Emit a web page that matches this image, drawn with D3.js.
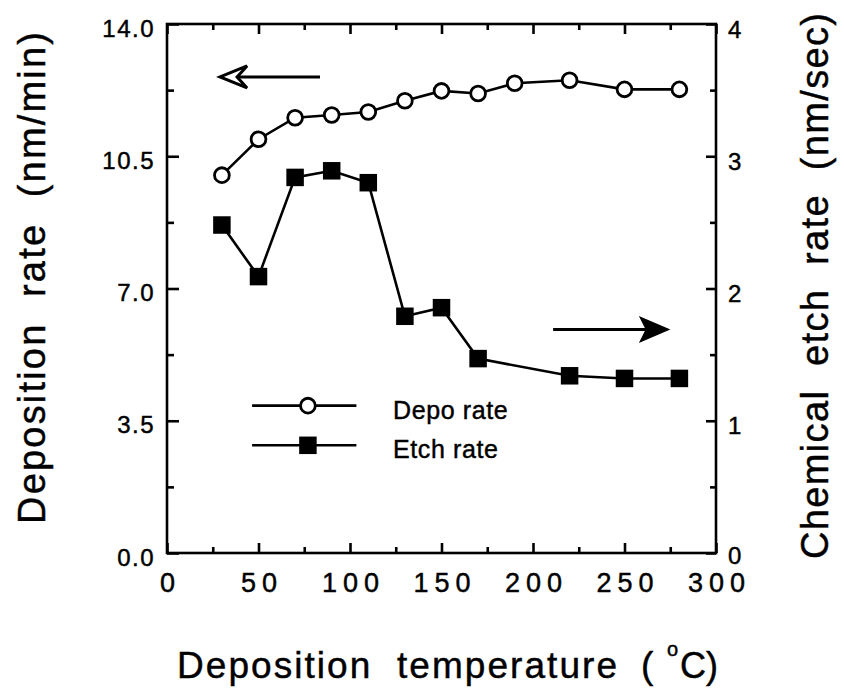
<!DOCTYPE html>
<html>
<head>
<meta charset="utf-8">
<script src="https://cdn.jsdelivr.net/npm/d3@7"></script>
<style>
  html, body { margin: 0; padding: 0; background: #fff; }
  svg { display: block; }
  text { font-family: "Liberation Sans", Arial, Helvetica, sans-serif; fill: #000; stroke: #000; stroke-width: 0.45px; }
</style>
</head>
<body>
<svg id="chart" width="844" height="690"></svg>
<script>
// ---- Data ----
const depoTemps = [30, 50, 70, 90, 110, 130, 150, 170, 190, 220, 250, 280];
const depoRate  = [10.0, 10.95, 11.52, 11.59, 11.67, 11.97, 12.23, 12.16, 12.43, 12.51, 12.27, 12.27];
const etchTemps = [30, 50, 70, 90, 110, 130, 150, 170, 220, 250, 280];
const etchRate  = [2.48, 2.09, 2.84, 2.89, 2.80, 1.79, 1.855, 1.47, 1.34, 1.32, 1.32];

const xMajorTicks = [0, 50, 100, 150, 200, 250, 300];
const xMinorTicks = [25, 75, 125, 175, 225, 275];
const yLeftMajor  = [0, 3.5, 7.0, 10.5, 14.0];
const yLeftMinor  = [1.75, 5.25, 8.75, 12.25];
const yRightMajor = [0, 1, 2, 3, 4];
const yRightMinor = [0.5, 1.5, 2.5, 3.5];

const legendLabels = ["Depo rate", "Etch rate"];
const xTitleWords = "Deposition  temperature";
const yLeftTitle = "Deposition  rate  (nm/min)";
const yRightTitle = "Chemical  etch  rate  (nm/sec)";

// ---- Layout ----
const svg = d3.select("#chart");
const m = { left: 167, right: 716, top: 24, bottom: 553 };

const x = d3.scaleLinear().domain([0, 300]).range([m.left, m.right]);
const yL = d3.scaleLinear().domain([0, 14]).range([m.bottom, m.top]);
const yR = d3.scaleLinear().domain([0, 4]).range([m.bottom, m.top]);

const axisW = 2.6;

function styleAxis(g) {
  g.select(".domain").remove();
  g.selectAll(".tick line").attr("stroke", "#000").attr("stroke-width", axisW);
}

// Bottom axis
svg.append("g").attr("transform", `translate(0,${m.bottom})`)
  .call(d3.axisBottom(x).tickValues(xMinorTicks).tickSize(-6).tickFormat(""))
  .call(styleAxis);
const gxb = svg.append("g").attr("transform", `translate(0,${m.bottom})`)
  .call(d3.axisBottom(x).tickValues(xMajorTicks).tickSize(-10).tickPadding(20).tickFormat(d3.format("d")))
  .call(styleAxis);
gxb.selectAll("text").attr("font-size", 27).style("letter-spacing", "6px").attr("dx", 3)
  .attr("font-family", "Liberation Sans, Arial, sans-serif");

// Top axis
svg.append("g").attr("transform", `translate(0,${m.top})`)
  .call(d3.axisTop(x).tickValues(xMinorTicks).tickSize(-6).tickFormat(""))
  .call(styleAxis);
svg.append("g").attr("transform", `translate(0,${m.top})`)
  .call(d3.axisTop(x).tickValues(xMajorTicks).tickSize(-10).tickFormat(""))
  .call(styleAxis);

// Left axis
svg.append("g").attr("transform", `translate(${m.left},0)`)
  .call(d3.axisLeft(yL).tickValues(yLeftMinor).tickSize(-7).tickFormat(""))
  .call(styleAxis);
const gyl = svg.append("g").attr("transform", `translate(${m.left},0)`)
  .call(d3.axisLeft(yL).tickValues(yLeftMajor).tickSize(-12).tickPadding(12).tickFormat(d3.format(".1f")))
  .call(styleAxis);
gyl.selectAll("text").attr("font-size", 24).attr("dy", "0.5em").style("letter-spacing", "1.5px")
  .attr("font-family", "Liberation Sans, Arial, sans-serif");

// Right axis
svg.append("g").attr("transform", `translate(${m.right},0)`)
  .call(d3.axisRight(yR).tickValues(yRightMinor).tickSize(-6).tickFormat(""))
  .call(styleAxis);
const gyr = svg.append("g").attr("transform", `translate(${m.right},0)`)
  .call(d3.axisRight(yR).tickValues(yRightMajor).tickSize(-10).tickPadding(12).tickFormat(d3.format("d")))
  .call(styleAxis);
gyr.selectAll("text").attr("font-size", 24).attr("dy", d => d === 0 ? "0.42em" : "0.55em")
  .attr("font-family", "Liberation Sans, Arial, sans-serif");

// Frame
svg.append("rect")
  .attr("x", m.left).attr("y", m.top)
  .attr("width", m.right - m.left).attr("height", m.bottom - m.top)
  .attr("fill", "none").attr("stroke", "#000").attr("stroke-width", axisW);

// ---- Series ----
const depoData = depoTemps.map((t, i) => ({ t, v: depoRate[i] }));
const etchData = etchTemps.map((t, i) => ({ t, v: etchRate[i] }));

svg.append("path").datum(depoData)
  .attr("fill", "none").attr("stroke", "#000").attr("stroke-width", 2.6)
  .attr("d", d3.line().x(d => x(d.t)).y(d => yL(d.v)));
svg.append("path").datum(etchData)
  .attr("fill", "none").attr("stroke", "#000").attr("stroke-width", 2.6)
  .attr("d", d3.line().x(d => x(d.t)).y(d => yR(d.v)));

svg.append("g").selectAll("circle").data(depoData).join("circle")
  .attr("cx", d => x(d.t)).attr("cy", d => yL(d.v)).attr("r", 7.4)
  .attr("fill", "#fff").attr("stroke", "#000").attr("stroke-width", 2.8);

const sq = 17.5;
svg.append("g").selectAll("rect").data(etchData).join("rect")
  .attr("x", d => x(d.t) - sq / 2).attr("y", d => yR(d.v) - sq / 2)
  .attr("width", sq).attr("height", sq).attr("fill", "#000");

// ---- Arrows (positioned in data space) ----
{
  const y0 = yL(12.6), xt = x(29), xe = x(83.6);
  svg.append("line").attr("x1", xt + 16).attr("x2", xe).attr("y1", y0).attr("y2", y0)
    .attr("stroke", "#000").attr("stroke-width", 3);
  svg.append("path")
    .attr("d", `M${xt},${y0} L${xt + 27},${y0 - 11} L${xt + 17},${y0} L${xt + 27},${y0 + 11} Z`)
    .attr("fill", "#fff").attr("stroke", "#000").attr("stroke-width", 3).attr("stroke-linejoin", "miter");
}
{
  const y0 = yR(1.69), xs = x(211), xt = x(274);
  svg.append("line").attr("x1", xs).attr("x2", xt - 14).attr("y1", y0).attr("y2", y0)
    .attr("stroke", "#000").attr("stroke-width", 3);
  svg.append("path")
    .attr("d", `M${xt},${y0} L${xt - 28},${y0 - 12} L${xt - 22},${y0} L${xt - 28},${y0 + 12} Z`)
    .attr("fill", "#000").attr("stroke", "#000").attr("stroke-width", 1.5);
}

// ---- Legend ----
const legX1 = x(46.5), legX2 = x(103.5), legM = x(77);
const legY = [yL(3.9), yL(2.85)];
legendLabels.forEach((lab, i) => {
  const g = svg.append("g");
  g.append("line").attr("x1", legX1).attr("x2", legX2).attr("y1", legY[i]).attr("y2", legY[i])
    .attr("stroke", "#000").attr("stroke-width", 2.6);
  if (i === 0) {
    g.append("circle").attr("cx", legM).attr("cy", legY[i]).attr("r", 7.4)
      .attr("fill", "#fff").attr("stroke", "#000").attr("stroke-width", 2.8);
  } else {
    g.append("rect").attr("x", legM - sq / 2).attr("y", legY[i] - sq / 2)
      .attr("width", sq).attr("height", sq).attr("fill", "#000");
  }
  g.append("text").attr("x", x(123.5)).attr("y", legY[i] + 13)
    .attr("font-size", 25).style("letter-spacing", "0.6px").text(lab);
});

// ---- Axis titles ----
svg.append("text")
  .attr("transform", "translate(45,278) rotate(-90)")
  .attr("text-anchor", "middle").attr("font-size", 38)
  .attr("textLength", 492).attr("lengthAdjust", "spacing")
  .style("white-space", "pre").text(yLeftTitle);

svg.append("text")
  .attr("transform", "translate(828,286) rotate(-90)")
  .attr("text-anchor", "middle").attr("font-size", 38)
  .attr("textLength", 546).attr("lengthAdjust", "spacing")
  .style("white-space", "pre").text(yRightTitle);

// Bottom title: "Deposition  temperature  ( °C)" with superscript o
svg.append("text")
  .attr("x", 177).attr("y", 678)
  .attr("font-size", 37)
  .attr("textLength", 440).attr("lengthAdjust", "spacing")
  .style("white-space", "pre").text(xTitleWords);
svg.append("text").attr("x", 641).attr("y", 678).attr("font-size", 37).text("(");
svg.append("text").attr("x", 667).attr("y", 656).attr("font-size", 20).text("o");
svg.append("text").attr("x", 680).attr("y", 678).attr("font-size", 36).text("C)");
</script>
</body>
</html>
